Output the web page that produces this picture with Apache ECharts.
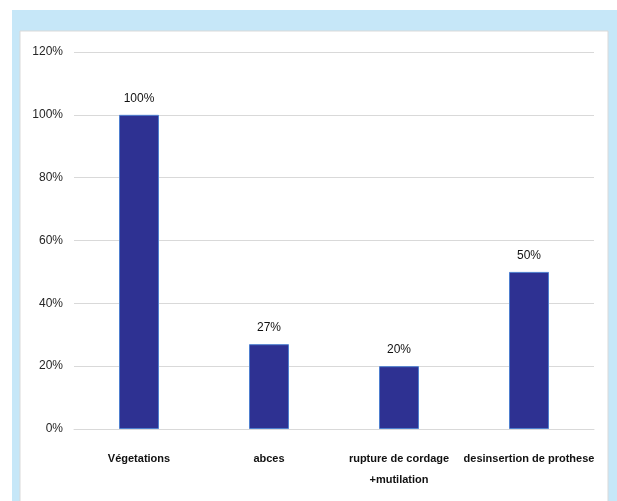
<!DOCTYPE html>
<html><head><meta charset="utf-8">
<script src="https://cdn.jsdelivr.net/npm/echarts@6/dist/echarts.min.js"></script>
<style>html,body{margin:0;padding:0;background:#fff}#c{width:617px;height:501px}</style>
</head><body><div id="c"></div>
<script>
const categories = ['Végetations', 'abces', 'rupture de cordage\n+mutilation', 'desinsertion de prothese'];
const values = [100, 27, 20, 50];
const yTicks = [0, 20, 40, 60, 80, 100, 120];

const font = "'Liberation Sans', sans-serif";
const chart = echarts.init(document.getElementById('c'), null, {renderer: 'canvas'});
chart.setOption({
  animation: false,
  backgroundColor: '#ffffff',
  graphic: [
    {type: 'rect', z: -10, shape: {x: 12, y: 10, width: 605, height: 491}, style: {fill: '#c6e7f8'}},
    {type: 'rect', z: -9, shape: {x: 20, y: 31, width: 588, height: 480}, style: {fill: '#ffffff', stroke: '#d9d9d9', lineWidth: 1}}
  ],
  grid: {left: 74, right: 23, top: 52, bottom: 72, containLabel: false},
  xAxis: {
    type: 'category', data: categories,
    axisLine: {lineStyle: {color: '#d9d9d9', width: 1}},
    axisTick: {show: false},
    axisLabel: {margin: 19, fontFamily: font, fontWeight: 'bold', fontSize: 11, color: '#111111', lineHeight: 21, interval: 0}
  },
  yAxis: {
    type: 'value', min: 0, max: 120, interval: 20,
    axisLine: {show: false}, axisTick: {show: false},
    splitLine: {lineStyle: {color: '#d9d9d9', width: 1}},
    axisLabel: {formatter: v => yTicks.includes(v) ? v + '%' : '', fontFamily: font, fontSize: 12, color: '#262626', margin: 11}
  },
  series: [{
    type: 'bar', data: values, barWidth: 40,
    itemStyle: {color: '#2e3192', borderColor: '#4f7fcf', borderWidth: 1},
    label: {show: true, position: 'top', distance: 10, formatter: p => p.value + '%', fontFamily: font, fontSize: 12, color: '#111111'}
  }]
});
</script></body></html>
